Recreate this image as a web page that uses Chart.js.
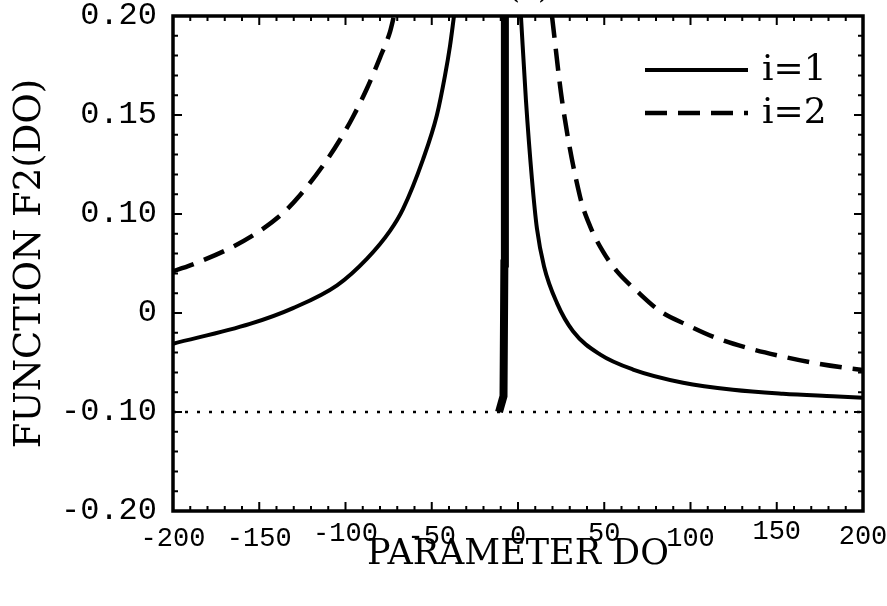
<!DOCTYPE html>
<html>
<head>
<meta charset="utf-8">
<script src="https://cdn.jsdelivr.net/npm/chart.js@4.4.1/dist/chart.umd.min.js"></script>
<style>
  html, body { margin: 0; padding: 0; background: #fff; }
  canvas { display: block; }
</style>
</head>
<body>
<canvas id="c" width="887" height="606"></canvas>
<script>
// 1. DATA
const xTicks = [-200, -150, -100, -50, 0, 50, 100, 150, 200];
const yTickValues = [-0.20, -0.10, 0, 0.10, 0.15, 0.20];
const yTickLabels = ['-0.20', '-0.10', '0', '0.10', '0.15', '0.20'];

// i=1, left branch and right branch
const do1Left = [-200, -155.4, -130.4, -104.9, -87.5, -74.2, -66.7, -55.1, -47, -42.3, -39.4, -37.1];
const f21Left = [-0.031, -0.011, 0.005, 0.028, 0.055, 0.083, 0.1025, 0.1275, 0.150, 0.170, 0.185, 0.200];
const do1Right = [1.7, 4.6, 8.1, 11.0, 15.1, 22.6, 31.9, 47.5, 66.7, 95.7, 124.6, 153.6, 182.6, 200];
const f21Right = [0.200, 0.1575, 0.1175, 0.085, 0.047, 0.010, -0.0184, -0.0418, -0.0571, -0.0704, -0.0776, -0.0816, -0.0842, -0.0857];

// i=2, left branch and right branch
const do2Left = [-200, -184.3, -165.2, -149.6, -136.2, -126.4, -113, -103.2, -95.7, -87.5, -80, -74.2, -71.9];
const f22Left = [0.042, 0.052, 0.067, 0.083, 0.1005, 0.1095, 0.1245, 0.1375, 0.149, 0.1635, 0.179, 0.192, 0.200];
const do2Right = [19.7, 25.5, 35.9, 41.7, 49.3, 57.4, 69, 82.3, 98, 115.4, 134.5, 153.6, 173.3, 192.5, 200];
const f22Right = [0.200, 0.1575, 0.109, 0.088, 0.062, 0.042, 0.022, 0.002, -0.012, -0.0255, -0.036, -0.044, -0.051, -0.056, -0.0575];

// thick branch near the pole
const doPole = [-11, -8.4, -7.9, -7.6];
const f2Pole = [-0.10, -0.084, 0.05, 0.20];

// dotted reference level
const doRef = [-200, 200];
const f2Ref = [-0.10, -0.10];

// uneven baseline of the printed x labels (line height factor per tick)
const xLabelLift = { '-200': 1.48, '-150': 1.44, '-100': 1.08, '-50': 1.32, '0': 1.32, '50': 1.08, '100': 1.48, '150': 0.92, '200': 1.32 };

// 2. AXIS MAPPING (the printed y labels are not evenly spaced)
function toAxis(v) {
    for (let i = 0; i < yTickValues.length - 1; i++) {
        const a = yTickValues[i], b = yTickValues[i + 1];
        if (v <= b || i === yTickValues.length - 2) return i + (v - a) / (b - a);
    }
}

function pts(xs, ys) {
    return xs.map((x, i) => ({ x: x, y: toAxis(ys[i]) }));
}

const gap = { x: null, y: null };

// 3. PLUGINS: frame with inward ticks, legend, clipped panel title
const framePlugin = {
    id: 'frame',
    afterDraw(chart) {
        const { ctx, chartArea: a, scales } = chart;
        const xs = scales.x, ys = scales.y;
        ctx.save();
        ctx.strokeStyle = '#000';
        ctx.lineWidth = 2;
        for (let v = -200; v <= 200; v += 10) {
            const px = xs.getPixelForValue(v);
            const len = v % 50 === 0 ? 9 : 5;
            ctx.beginPath();
            ctx.moveTo(px, a.bottom); ctx.lineTo(px, a.bottom - len);
            ctx.moveTo(px, a.top); ctx.lineTo(px, a.top + len);
            ctx.stroke();
        }
        for (let k = 0; k <= 25; k++) {
            const py = ys.getPixelForValue(k / 5);
            const len = k % 5 === 0 ? 9 : 5;
            ctx.beginPath();
            ctx.moveTo(a.left, py); ctx.lineTo(a.left + len, py);
            ctx.moveTo(a.right, py); ctx.lineTo(a.right - len, py);
            ctx.stroke();
        }
        ctx.lineWidth = 3.5;
        ctx.strokeRect(a.left, a.top, a.right - a.left, a.bottom - a.top);

        // legend
        ctx.font = '36px "DejaVu Serif"';
        ctx.textBaseline = 'middle';
        ctx.fillStyle = '#000';
        let ly = a.top + 54;
        chart.data.datasets.forEach(ds => {
            if (!ds.inLegend) return;
            ctx.lineWidth = ds.borderWidth;
            ctx.setLineDash(ds.borderDash || []);
            ctx.beginPath();
            ctx.moveTo(a.right - 218, ly);
            ctx.lineTo(a.right - 115, ly);
            ctx.stroke();
            ctx.setLineDash([]);
            ctx.fillText(ds.label, a.right - 101, ly + 1);
            ly += 43;
        });

        // panel title, cut by the top edge
        ctx.textAlign = 'center';
        ctx.textBaseline = 'alphabetic';
        ctx.font = '30px "DejaVu Serif"';
        ctx.fillText('(a)', 529, -2);
        ctx.restore();
    }
};

// 4. CHART
new Chart(document.getElementById('c'), {
    type: 'line',
    data: {
        datasets: [
            {
                label: 'i=1', inLegend: true,
                data: pts(do1Left, f21Left).concat([gap], pts(do1Right, f21Right)),
                borderColor: '#000', borderWidth: 4, cubicInterpolationMode: 'monotone'
            },
            {
                label: 'i=2', inLegend: true,
                data: pts(do2Left, f22Left).concat([gap], pts(do2Right, f22Right)),
                borderColor: '#000', borderWidth: 4.5, borderDash: [22, 11], cubicInterpolationMode: 'monotone'
            },
            {
                label: 'pole',
                data: pts(doPole, f2Pole),
                borderColor: '#000', borderWidth: 8, tension: 0
            },
            {
                label: 'ref',
                data: pts(doRef, f2Ref),
                borderColor: '#000', borderWidth: 2.5, borderDash: [3, 9], tension: 0
            }
        ]
    },
    options: {
        responsive: false,
        animation: false,
        spanGaps: false,
        elements: { point: { radius: 0 } },
        layout: { padding: { top: 16, right: 24, left: 0, bottom: 0 } },
        plugins: { legend: { display: false }, tooltip: { enabled: false } },
        scales: {
            x: {
                type: 'linear', min: -200, max: 200,
                afterBuildTicks: s => { s.ticks = xTicks.map(v => ({ value: v })); },
                afterFit: s => { s.height = 95; s.paddingLeft = 0; s.paddingRight = 0; },
                grid: { display: false, drawTicks: false },
                border: { display: false },
                ticks: {
                    color: '#000', padding: 8, maxRotation: 0, autoSkip: false,
                    font: ctx => ({
                        family: '"Liberation Mono"', size: 27,
                        lineHeight: ctx.tick ? (xLabelLift[String(ctx.tick.value)] || 1.3) : 1.3
                    }),
                    callback: v => String(v)
                },
                title: {
                    display: true, text: 'PARAMETER DO', color: '#000',
                    font: { family: '"DejaVu Serif"', size: 35 },
                    padding: { top: 30, bottom: 30 }
                }
            },
            y: {
                type: 'linear', min: 0, max: 5,
                afterBuildTicks: s => { s.ticks = yTickLabels.map((t, i) => ({ value: i })); },
                afterFit: s => { s.width = 173; s.paddingTop = 0; s.paddingBottom = 0; },
                grid: { display: false, drawTicks: false },
                border: { display: false },
                ticks: {
                    color: '#000', padding: 16, autoSkip: false,
                    font: { family: '"Liberation Mono"', size: 32, lineHeight: 1 },
                    callback: v => yTickLabels[v]
                },
                title: {
                    display: true, text: 'FUNCTION F2(DO)', color: '#000',
                    font: { family: '"DejaVu Serif"', size: 37 },
                    padding: { top: 8, bottom: 8 }
                }
            }
        }
    },
    plugins: [framePlugin]
});
</script>
</body>
</html>
